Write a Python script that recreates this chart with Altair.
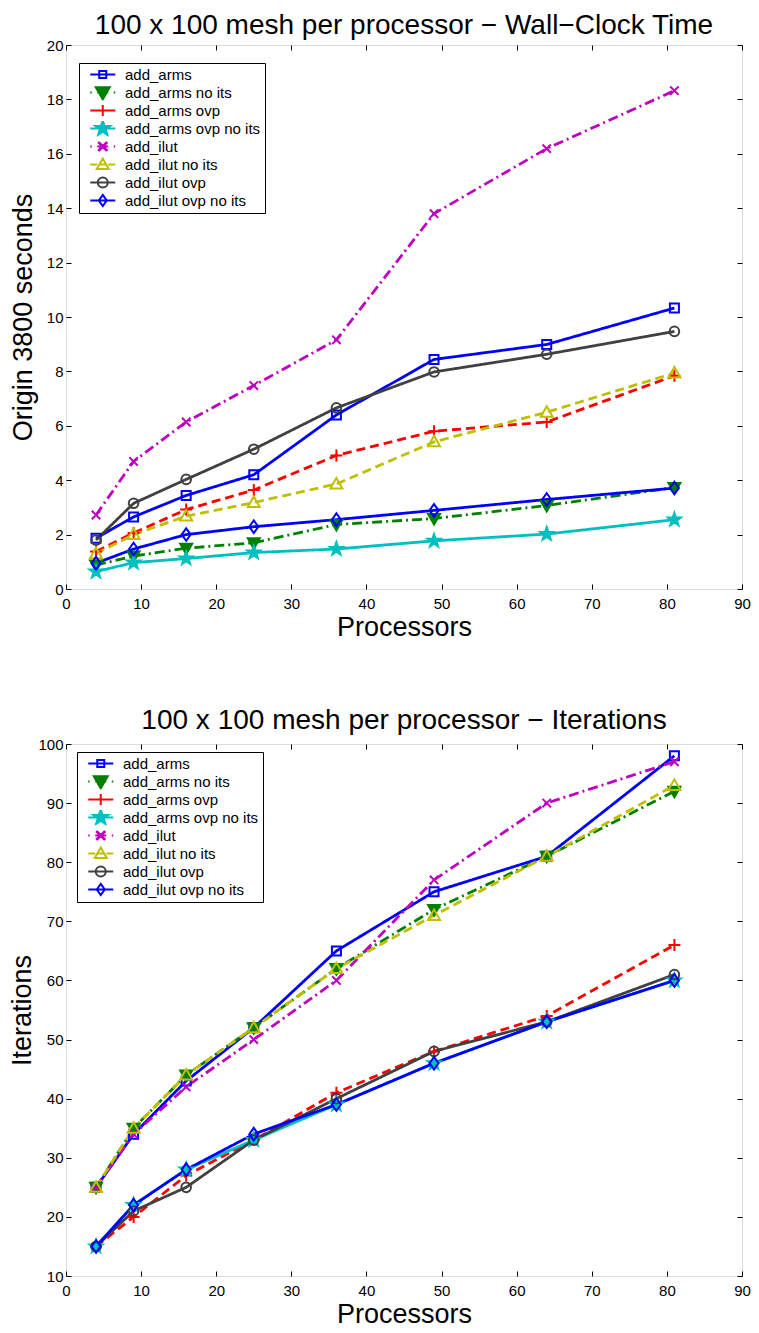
import altair as alt
import pandas as pd

FONT = "Liberation Sans"

processors = [4, 9, 16, 25, 36, 49, 64, 81]
series_names = ["add_arms", "add_arms no its", "add_arms ovp", "add_arms ovp no its",
                "add_ilut", "add_ilut no its", "add_ilut ovp", "add_ilut ovp no its"]

# Wall-clock time (seconds)
time_add_arms = [1.87, 2.65, 3.44, 4.20, 6.40, 8.44, 8.99, 10.33]
time_add_arms_no_its = [0.88, 1.21, 1.50, 1.70, 2.37, 2.59, 3.07, 3.73]
time_add_arms_ovp = [1.38, 2.06, 2.92, 3.64, 4.91, 5.80, 6.14, 7.84]
time_add_arms_ovp_no_its = [0.64, 0.97, 1.12, 1.34, 1.47, 1.77, 2.02, 2.55]
time_add_ilut = [2.72, 4.69, 6.14, 7.48, 9.16, 13.80, 16.19, 18.32]
time_add_ilut_no_its = [1.30, 2.00, 2.68, 3.18, 3.86, 5.41, 6.50, 7.94]
time_add_ilut_ovp = [1.80, 3.15, 4.03, 5.14, 6.66, 7.98, 8.63, 9.47]
time_add_ilut_ovp_no_its = [0.95, 1.47, 2.00, 2.29, 2.55, 2.89, 3.29, 3.71]

# Iterations
its_add_arms = [25, 34, 43, 52, 65, 75, 81, 98]
its_add_arms_no_its = [25, 35, 44, 52, 62, 72, 81, 92]
its_add_arms_ovp = [15, 20, 27, 33, 41, 48, 54, 66]
its_add_arms_ovp_no_its = [15, 22, 28, 33, 39, 46, 53, 60]
its_add_ilut = [25, 34, 42, 50, 60, 77, 90, 97]
its_add_ilut_no_its = [25, 35, 44, 52, 62, 71, 81, 93]
its_add_ilut_ovp = [15, 21, 25, 33, 40, 48, 53, 61]
its_add_ilut_ovp_no_its = [15, 22, 28, 34, 39, 46, 53, 60]

x_ticks = [0, 10, 20, 30, 40, 50, 60, 70, 80, 90]
time_ticks = [0, 2, 4, 6, 8, 10, 12, 14, 16, 18, 20]
its_ticks = [10, 20, 30, 40, 50, 60, 70, 80, 90, 100]

# ---------------- styles ----------------
series_colors = ["#0000ff", "#008000", "#ff0000", "#00bfbf",
                 "#bf00bf", "#bfbf00", "#404040", "#0000ff"]
SOLID, DASHED, DASHDOT = [1, 0], [9, 5], [10, 4, 2, 4]
series_dash = [SOLID, DASHDOT, DASHED, SOLID, DASHDOT, DASHED, SOLID, SOLID]
series_fill = ["transparent", "#008000", "transparent", "#00bfbf",
               "transparent", "transparent", "transparent", "transparent"]
series_mw = [2, 2, 2, 2, 3, 2, 2, 2]

STAR = [(0, -1), (0.235, -0.324), (0.951, -0.309), (0.380, 0.124), (0.588, 0.809),
        (0, 0.4), (-0.588, 0.809), (-0.380, 0.124), (-0.951, -0.309), (-0.235, -0.324)]
SQUARE = [(-1, -1), (1, -1), (1, 1), (-1, 1)]
TRI_DOWN = [(-1, -0.75), (1, -0.75), (0, 1)]
TRI_UP = [(0, -1), (1, 0.75), (-1, 0.75)]
DIAMOND = [(0, -1.4), (1, 0), (0, 1.4), (-1, 0)]


def poly(pts, s, cx=0.0, nest=(1.0,)):
    cy = sum(p[1] for p in pts) / len(pts)
    out = ""
    for k in nest:
        out += "M" + "L".join(f"{cx + x * s * k:.3f},{cy * s + (y - cy) * s * k:.3f}" for x, y in pts) + "Z"
    return out


def circ(r, cx=0.0):
    return f"M{cx + r:.3f},0A{r},{r},0,1,1,{cx - r:.3f},0A{r},{r},0,1,1,{cx + r:.3f},0Z"


def plus(r, cx=0.0):
    return f"M{cx - r:.3f},0L{cx + r:.3f},0M{cx:.3f},{-r}L{cx:.3f},{r}"


def xmark(r, cx=0.0, thick=0.0):
    out = ""
    for d in ([0.0] if thick == 0 else [-thick, 0.0, thick]):
        out += (f"M{cx - r + d:.3f},{-r:.3f}L{cx + r + d:.3f},{r:.3f}"
                f"M{cx - r + d:.3f},{r:.3f}L{cx + r + d:.3f},{-r:.3f}")
    return out


# markers on the plot (size 144 -> 6 px per unit)
point_shapes = [poly(SQUARE, 0.75), poly(TRI_DOWN, 1.0), plus(1.0), poly(STAR, 1.15),
                xmark(0.7), poly(TRI_UP, 1.0), circ(0.8), poly(DIAMOND, 0.75)]

# legend symbols: line sample + marker (size 625 -> 12.5 px per unit)
L_SOLID = "M-0.5,0L1.5,0"
L_DASHED = "M-0.5,0L0.06,0M0.26,0L0.74,0M0.94,0L1.5,0"
L_DASHDOT = "M-0.5,0L-0.38,0M0.06,0L0.94,0M1.38,0L1.5,0"
legend_shapes = [
    L_SOLID + poly(SQUARE, 0.28, 0.5),
    L_DASHDOT + poly(TRI_DOWN, 0.56, 0.5, (1.0, 0.6, 0.25)),
    L_DASHED + plus(0.44, 0.5),
    L_SOLID + poly(STAR, 0.64, 0.5, (1.0, 0.65, 0.35)),
    L_DASHDOT + xmark(0.34, 0.5, 0.04),
    L_DASHED + poly(TRI_UP, 0.48, 0.5),
    L_SOLID + circ(0.4, 0.5),
    L_SOLID + poly(DIAMOND, 0.32, 0.5),
]

INWARD = {"expr": "-5"}  # tick length pointing into the plot


def make_df(series_values):
    rows = []
    for name, vals in zip(series_names, series_values):
        for p, v in zip(processors, vals):
            rows.append({"Processors": p, "value": v, "series": name})
    return pd.DataFrame(rows)


def panel(series_values, ydom, yticks, ytitle, title, width, height, lx, ly, ytp, toff):
    df = make_df(series_values)
    xscale = alt.Scale(domain=[0, 90], nice=False)
    yscale = alt.Scale(domain=ydom, nice=False)
    leg = alt.Legend(title=None, orient="none", legendX=lx, legendY=ly,
                     strokeColor="black", fillColor="white", padding=4,
                     labelFont=FONT, labelFontSize=15, labelColor="black",
                     labelOffset=15, labelLimit=400, symbolSize=625,
                     symbolStrokeWidth=2, symbolOpacity=1, clipHeight=15, rowPadding=2)
    cscale = alt.Scale(domain=series_names, range=series_colors)
    common = dict(labelFont=FONT, labelFontSize=15, labelColor="black",
                  titleFont=FONT, titleFontSize=27, titleFontWeight="normal", titleColor="black",
                  grid=False, domain=False, ticks=True, tickSize=INWARD, tickColor="black",
                  tickWidth=1, labelFlush=False, labelOverlap=False)
    inner = dict(labels=False, ticks=True, tickSize=INWARD, tickColor="black", tickWidth=1,
                 title=None, grid=False, domain=False)

    lines = alt.Chart(df).mark_line(strokeWidth=2.8, strokeCap="butt").encode(
        x=alt.X("Processors:Q", scale=xscale,
                axis=alt.Axis(orient="bottom", values=x_ticks, labelPadding=12,
                              title="Processors", titlePadding=3, **common)),
        y=alt.Y("value:Q", scale=yscale,
                axis=alt.Axis(orient="left", values=yticks, labelPadding=8,
                              title=ytitle, titlePadding=ytp, **common)),
        color=alt.Color("series:N", scale=cscale, legend=None),
        strokeDash=alt.StrokeDash("series:N",
                                  scale=alt.Scale(domain=series_names, range=series_dash),
                                  legend=None),
        detail="series:N",
    )
    points = alt.Chart(df).mark_point(opacity=1, size=144).encode(
        x=alt.X("Processors:Q", scale=xscale,
                axis=alt.Axis(orient="top", values=x_ticks, **inner)),
        y=alt.Y("value:Q", scale=yscale,
                axis=alt.Axis(orient="right", values=yticks, **inner)),
        color=alt.Color("series:N", scale=cscale, legend=None),
        shape=alt.Shape("series:N", scale=alt.Scale(domain=series_names, range=point_shapes),
                        legend=None),
        fill=alt.Fill("series:N", scale=alt.Scale(domain=series_names, range=series_fill),
                      legend=None),
        strokeWidth=alt.StrokeWidth("series:N",
                                    scale=alt.Scale(domain=series_names, range=series_mw),
                                    legend=None),
    )
    legend_layer = alt.Chart(df).mark_point(opacity=0, filled=False, size=625, strokeWidth=2).encode(
        x=alt.X("Processors:Q", scale=xscale, axis=None),
        y=alt.Y("value:Q", scale=yscale, axis=None),
        color=alt.Color("series:N", scale=cscale, legend=leg),
        shape=alt.Shape("series:N", scale=alt.Scale(domain=series_names, range=legend_shapes),
                        legend=leg),
    )
    return alt.layer(lines, points, legend_layer).resolve_scale(
        shape="independent", color="independent"
    ).resolve_axis(x="independent", y="independent").properties(
        width=width, height=height,
        title=alt.TitleParams(title, font=FONT, fontSize=28, fontWeight="normal",
                              color="black", anchor="middle", frame="group", offset=toff),
    )


top = panel([time_add_arms, time_add_arms_no_its, time_add_arms_ovp, time_add_arms_ovp_no_its,
             time_add_ilut, time_add_ilut_no_its, time_add_ilut_ovp, time_add_ilut_ovp_no_its],
            [0, 20], time_ticks, "Origin 3800 seconds",
            "100 x 100 mesh per processor \u2212 Wall\u2212Clock Time", 676, 544, 13, 18, 9, -2)
bottom = panel([its_add_arms, its_add_arms_no_its, its_add_arms_ovp, its_add_arms_ovp_no_its,
                its_add_ilut, its_add_ilut_no_its, its_add_ilut_ovp, its_add_ilut_ovp_no_its],
               [10, 100], its_ticks, "Iterations",
               "100 x 100 mesh per processor \u2212 Iterations", 676, 532, 11, 8, 1, 2)

chart = alt.concat(top, bottom, columns=1, spacing=65).resolve_scale(
    color="independent", shape="independent", strokeDash="independent",
    fill="independent", strokeWidth="independent"
).properties(
    padding={"left": 0, "top": 3, "right": 0, "bottom": -1}
).configure_view(stroke="black", strokeWidth=1.5).configure(font=FONT)

chart.save("out.html", embed_options={"renderer": "svg", "actions": False})
